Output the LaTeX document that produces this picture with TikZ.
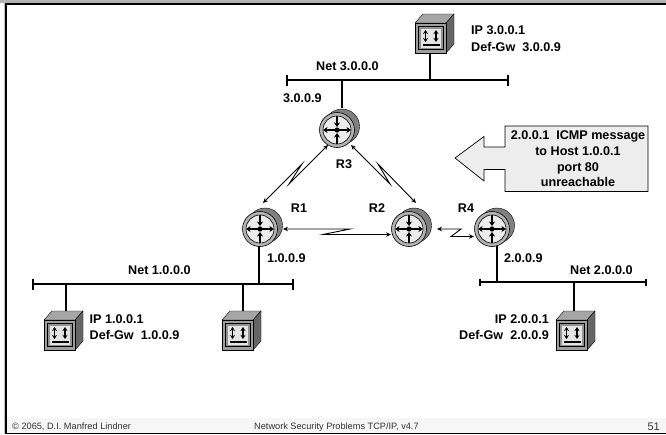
\documentclass[tikz,border=0pt]{standalone}
\usepackage{fontspec}
\setmainfont{Liberation Sans}
\usetikzlibrary{arrows.meta}
\definecolor{boxgray}{gray}{0.93}
\definecolor{hostgray}{gray}{0.62}
\tikzset{
 x=1pt,y=-1pt,
 lbl/.style={font=\fontsize{12.6}{15.7}\selectfont\bfseries,inner sep=0pt},
 netline/.style={line width=1.5pt,black},
 stub/.style={line width=1.5pt,black},
 link/.style={line width=0.9pt,line join=miter,{Stealth[length=5pt,width=4.5pt]}-{Stealth[length=5pt,width=4.5pt]}},
 hpoint/.style={inner sep=0pt,minimum size=0pt},
}
\newcommand{\hostbox}[3]{% name, x, y of front top-left
 \begin{scope}[shift={(#2,#3)}]
  \fill[gray!70,draw=black,line width=.4pt] (0,0)--(8,-9)--(39,-9)--(31,0)--cycle;
  \fill[black!60,draw=black,line width=.4pt] (31,0)--(39,-9)--(39,21)--(31,30)--cycle;
  \fill[hostgray,draw=black,line width=.5pt] (0,0) rectangle (31,30);
  \fill[gray!85,draw=black,line width=.5pt] (3.5,3.5) rectangle (28,26.5);
  \fill[gray!20] (6,6) rectangle (25.5,24.5);
  \draw[line width=1.7pt,{Stealth[length=4pt,width=5pt]}-{Stealth[length=4pt,width=5pt]}] (10.5,7) -- (10.5,19);
  \draw[line width=1.7pt,{Stealth[length=4pt,width=5pt]}-{Stealth[length=4pt,width=5pt]}] (21,7) -- (21,19);
  \fill[black] (7.5,20.5) rectangle (24.5,22.5);
  \node[hpoint] (#1) at (15.5,15) {};
 \end{scope}}
\newcommand{\routerbox}[3]{% name, cx, cy
 \begin{scope}[shift={(#2,#3)}]
  \fill[black!50,draw=black,line width=.4pt] (5,-3.5) circle (17.5);
  \fill[gray!60,draw=black,line width=.6pt] (0,0) circle (17.5);
  \fill[gray!15,draw=black,line width=.6pt] (0,0) circle (14);
  \draw[line width=2pt,{Stealth[length=4.5pt,width=6pt]}-{Stealth[length=4.5pt,width=6pt]}] (-14,0) -- (14,0);
  \draw[line width=2pt,-{Stealth[length=4.5pt,width=6pt]}] (0,-14) -- (0,-3);
  \draw[line width=2pt,-{Stealth[length=4.5pt,width=6pt]}] (0,14) -- (0,3);
  \fill[black] (0,0) circle (2.6);
  \node[hpoint,circle,minimum size=36pt] (#1) at (0,0) {};
 \end{scope}}
\begin{document}
\begin{tikzpicture}
\useasboundingbox (0,0) rectangle (666,434);
\fill[white] (0,0) rectangle (666,434);
% frame
\fill[gray!60] (0,0) rectangle (666,3);
\fill[gray!7] (7,418) rectangle (666,433);
\draw[line width=1.2pt] (6,434) -- (6,4) -- (666,4);
\draw[gray!50,line width=.8pt] (4.4,0) -- (4.4,434);
\draw[line width=1pt] (6,433.4) -- (666,433.4);
% coordinates
\coordinate (n3a) at (287,80); \coordinate (n3b) at (508,80);
\coordinate (n1a) at (33,284); \coordinate (n1b) at (293,284);
\coordinate (n2a) at (480,282); \coordinate (n2b) at (646,282);
\coordinate (t3r) at (342,80); \coordinate (t3h) at (430,80);
\coordinate (t1h) at (66,284); \coordinate (t1g) at (243,284); \coordinate (t1r) at (259,284);
\coordinate (t2r) at (497,282); \coordinate (t2h) at (574,282);
% stubs
\routerbox{R3}{337}{130}
\routerbox{R1}{260}{229}
\routerbox{R2}{409}{229}
\routerbox{R4}{492}{229}
\hostbox{H3}{415}{23}
\hostbox{H1}{44}{320}
\hostbox{H1b}{222}{320}
\hostbox{H2}{556}{320}
\coordinate (h3b) at (430,53);
\coordinate (h1t) at (66,311);
\coordinate (h1bt) at (243,311);
\coordinate (h2t) at (574,311);
\coordinate (r3t) at (342,108);
\coordinate (r1b) at (259,246);
\coordinate (r4b) at (497,246);
\draw[stub] (h3b) -- (t3h);
\draw[stub] (r3t) -- (t3r);
\draw[stub] (r1b) -- (t1r);
\draw[stub] (h1t) -- (t1h);
\draw[stub] (h1bt) -- (t1g);
\draw[stub] (r4b) -- (t2r);
\draw[stub] (h2t) -- (t2h);
% nets
\draw[netline] (n3a) -- (n3b);
\draw[netline] (n3a)+(0,-5.5) -- +(0,5.5);
\draw[netline] (n3b)+(0,-5.5) -- +(0,5.5);
\draw[netline] (n1a) -- (n1b);
\draw[netline] (n1a)+(0,-5.5) -- +(0,5.5);
\draw[netline] (n1b)+(0,-5.5) -- +(0,5.5);
\draw[netline] (n2a) -- (n2b);
\draw[netline] (n2a)+(0,-3.5) -- +(0,3.5);
\draw[netline] (n2b)+(0,-3.5) -- +(0,3.5);
% links
\draw[link] (263,203) -- (302,164) -- (289,184) -- (328,145);
\draw[link] (351,145) -- (390,184) -- (378,164) -- (416,203);
\draw[link] (283,229) -- (350,229) -- (323,234.5) -- (391,234.5);
\draw[link] (437,229) -- (461,229) -- (451,236.5) -- (474,236.5);
% callout
\draw[fill=boxgray,line width=.7pt] (505,126) -- (648,126) -- (648,191.5) -- (505,191.5) -- (505,169.5) -- (484,169.5) -- (484,181) -- (455,158) -- (484,136.5) -- (484,147) -- (505,147) -- cycle;
\node[lbl,align=center] at (578,159) {2.0.0.1\ \ ICMP message\\to Host 1.0.0.1\\port 80\\unreachable};
% labels
\node[lbl,anchor=west] at (471,30.5) {IP 3.0.0.1};
\node[lbl,anchor=west] at (471,47) {Def-Gw\ \ 3.0.0.9};
\node[lbl,anchor=west] at (316,66) {Net 3.0.0.0};
\node[lbl,anchor=west] at (283,98.5) {3.0.0.9};
\node[lbl] at (344,164) {R3};
\node[lbl] at (299,208.5) {R1};
\node[lbl] at (377,208.5) {R2};
\node[lbl] at (466,208.5) {R4};
\node[lbl,anchor=west] at (267,258) {1.0.0.9};
\node[lbl,anchor=west] at (128,270) {Net 1.0.0.0};
\node[lbl,anchor=west] at (89.5,319.5) {IP 1.0.0.1};
\node[lbl,anchor=west] at (89.5,335) {Def-Gw\ \ 1.0.0.9};
\node[lbl,anchor=west] at (504,258) {2.0.0.9};
\node[lbl,anchor=west] at (570,270) {Net 2.0.0.0};
\node[lbl,anchor=east] at (549,319.5) {IP 2.0.0.1};
\node[lbl,anchor=east] at (549,335) {Def-Gw\ \ 2.0.0.9};
% footer
\node[inner sep=0pt,anchor=west,font=\fontsize{9.2}{10}\selectfont,text=black!80] at (12,427) {© 2065, D.I. Manfred Lindner};
\node[inner sep=0pt,anchor=west,font=\fontsize{9.2}{10}\selectfont,text=black!80] at (254,427) {Network Security Problems TCP/IP, v4.7};
\node[inner sep=0pt,anchor=east,font=\fontsize{11}{12}\selectfont,text=black!80] at (660,427) {51};
\end{tikzpicture}
\end{document}
